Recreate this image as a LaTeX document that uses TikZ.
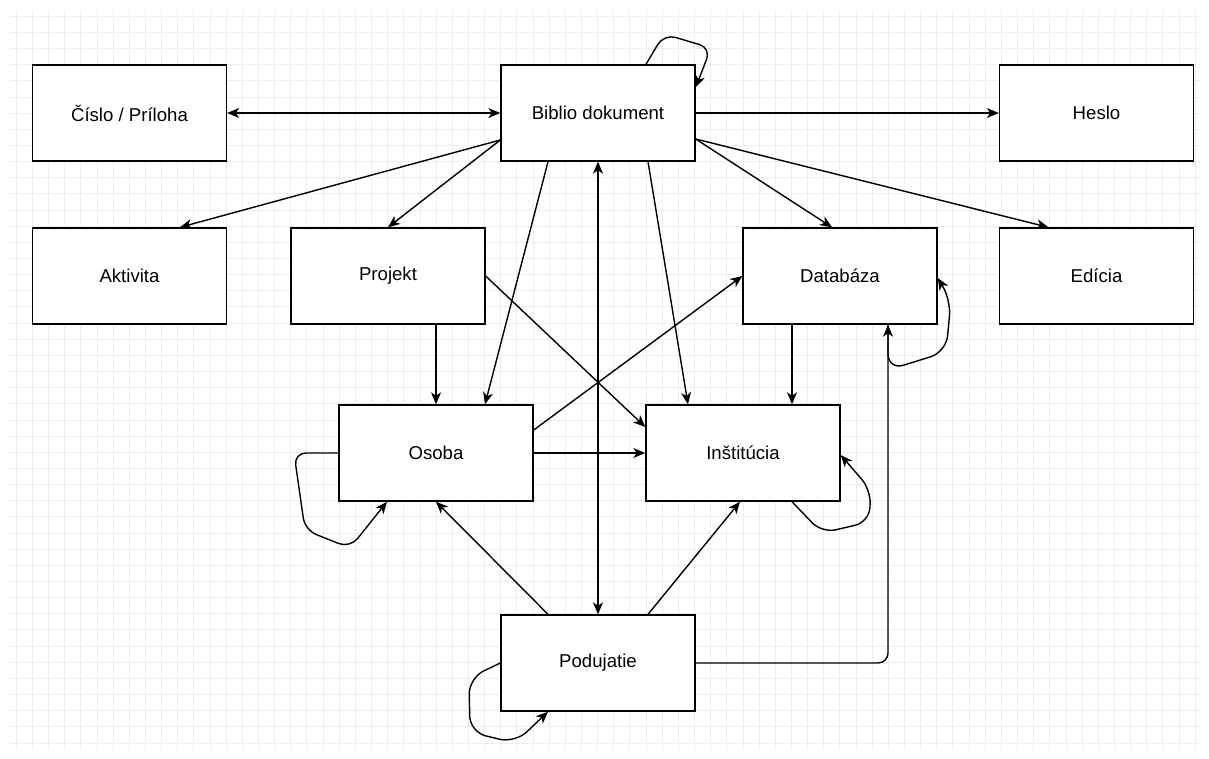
\documentclass[tikz,border=0pt]{standalone}
\usepackage{fontspec}
\setmainfont{Liberation Sans}
\usetikzlibrary{arrows.meta,calc}
\definecolor{gridc}{HTML}{EDEDED}
\tikzset{
  ent/.style={draw=black, fill=white, line width=1.4pt, minimum width=194pt, minimum height=96pt, inner sep=0pt, font=\fontsize{18.6}{22}\selectfont},
  conn/.style={line width=1.4pt, -{Stealth[length=12pt,width=10pt,inset=3.5pt]}},
  bi/.style={line width=1.4pt, {Stealth[length=12pt,width=10pt,inset=3.5pt]}-{Stealth[length=12pt,width=10pt,inset=3.5pt]}},
  loopc/.style={conn, rounded corners=12pt}
}
\begin{document}
\begin{tikzpicture}[x=1pt,y=-1pt]
\useasboundingbox (0,0) rectangle (1209,758);
\fill[white] (0,0) rectangle (1209,758);
% grid
\foreach \i in {1,...,74} {
  \draw[gridc, line width=0.8pt] ({\i*16.15},10) -- ({\i*16.15},750);
}
\foreach \j in {1,...,46} {
  \draw[gridc, line width=0.8pt] (10,{\j*16.15}) -- (1200,{\j*16.15});
}
% nodes
\node[ent] (cislo) at (129.5,113) {Číslo / Príloha};
\node[ent] (biblio) at (598,113) {Biblio dokument};
\node[ent] (heslo) at (1096.5,113) {Heslo};
\node[ent] (aktivita) at (129.5,276) {Aktivita};
\node[ent] (projekt) at (388,276) {Projekt};
\node[ent] (databaza) at (840,276) {Databáza};
\node[ent] (edicia) at (1096.5,276) {Edícia};
\node[ent] (osoba) at (436,453) {Osoba};
\node[ent] (institucia) at (743,453) {Inštitúcia};
\node[ent] (podujatie) at (598,663) {Podujatie};
% connectors
\draw[bi] (cislo.east) -- (biblio.west);
\draw[conn] (biblio.east) -- (heslo.west);
\draw[conn] ([yshift=-27pt]biblio.west) -- ([xshift=50.5pt]aktivita.north);
\draw[conn] ([yshift=-27pt]biblio.west) -- (projekt.north);
\draw[conn] ([xshift=-50pt]biblio.south) -- ([xshift=49pt]osoba.north);
\draw[bi] (biblio.south) -- (podujatie.north);
\draw[conn] ([xshift=50pt]biblio.south) -- ([xshift=-55pt]institucia.north);
\draw[conn] ([yshift=-26pt]biblio.east) -- ([xshift=-8pt]databaza.north);
\draw[conn] ([yshift=-26pt]biblio.east) -- ([xshift=-48pt]edicia.north);
\draw[conn] ([xshift=48pt]projekt.south) -- (osoba.north);
\draw[conn] (projekt.east) -- ([yshift=26pt]institucia.west);
\draw[conn] ([yshift=23pt]osoba.east) -- (databaza.west);
\draw[conn] (osoba.east) -- (institucia.west);
\draw[conn] ([xshift=-48pt]databaza.south) -- ([xshift=49pt]institucia.north);
\draw[conn] ([xshift=-50pt]podujatie.north) -- (osoba.south);
\draw[conn] ([xshift=50pt]podujatie.north) -- ([xshift=-3pt]institucia.south);
\draw[conn, rounded corners=10pt] (podujatie.east) -| ([xshift=48pt]databaza.south);
% self loops
\draw[loopc, rounded corners=12pt] ([xshift=48pt]biblio.north) -- (664,34) -- (711,48) -- ([yshift=-23pt]biblio.north east);
\draw[loopc, rounded corners=16pt] ([xshift=48pt]databaza.south) -- (888,370) -- (946,352) -- (951,300) -- ([yshift=-2pt]databaza.east);
\draw[loopc, rounded corners=14pt] ([xshift=49pt]institucia.south) -- (822,533) -- (869,522) -- (871,490) -- ([yshift=-2pt]institucia.east);
\draw[loopc, rounded corners=12pt] (osoba.west) -- (294,453) -- (305,530) -- (350,548) -- ([xshift=-49pt]osoba.south);
\draw[loopc, rounded corners=16pt] (podujatie.west) -- (469,678) -- (470,732) -- (515,743) -- ([xshift=-50pt]podujatie.south);
\end{tikzpicture}
\end{document}
